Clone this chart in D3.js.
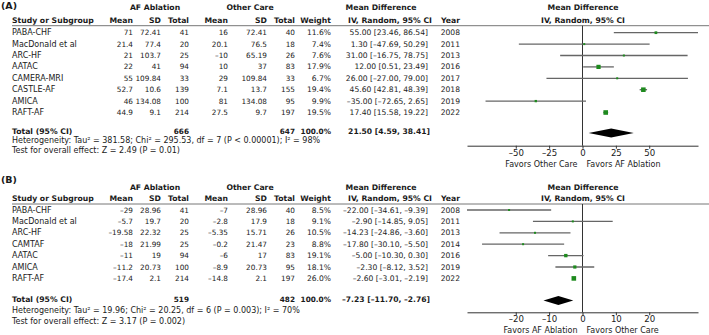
<!DOCTYPE html>
<html>
<head>
<meta charset="utf-8">
<script src="https://cdn.jsdelivr.net/npm/d3@7"></script>
<style>
  body { margin: 0; background: #fff; }
  svg { display: block; font-family: "DejaVu Sans", Verdana, sans-serif; }
</style>
</head>
<body>
<div id="chart"></div>
<script>
// ---- panel A ----
const studiesA = ["PABA-CHF", "MacDonald et al", "ARC-HF", "AATAC", "CAMERA-MRI", "CASTLE-AF", "AMICA", "RAFT-AF"];
const afMeanA = [71, 21.4, 21, 22, 55, 52.7, 46, 44.9];
const afSdA = [72.41, 77.4, 103.7, 41, 109.84, 10.6, 134.08, 9.1];
const afNA = [41, 20, 25, 94, 33, 139, 100, 214];
const ocMeanA = [16, 20.1, -10, 10, 29, 7.1, 81, 27.5];
const ocSdA = [72.41, 76.5, 65.19, 37, 109.84, 13.7, 134.08, 9.7];
const ocNA = [40, 18, 26, 83, 33, 155, 95, 197];
const weightA = [11.6, 7.4, 7.6, 17.9, 6.7, 19.4, 9.9, 19.5];
const mdA = [55.00, 1.30, 31.00, 12.00, 26.00, 45.60, -35.00, 17.40];
const loA = [23.46, -47.69, -16.75, 0.51, -27.00, 42.81, -72.65, 15.58];
const hiA = [86.54, 50.29, 78.75, 23.49, 79.00, 48.39, 2.65, 19.22];
const yearA = [2008, 2011, 2013, 2016, 2017, 2018, 2019, 2022];
const totalA = { afN: 666, ocN: 647, md: 21.50, lo: 4.59, hi: 38.41 };
const hetA = "Heterogeneity: Tau² = 381.58; Chi² = 295.53, df = 7 (P < 0.00001); I² = 98%";
const testA = "Test for overall effect: Z = 2.49 (P = 0.01)";
const ticksA = [-50, -25, 0, 25, 50];
const favorsA = ["Favors Other Care", "Favors AF Ablation"];

// ---- panel B ----
const studiesB = ["PABA-CHF", "MacDonald et al", "ARC-HF", "CAMTAF", "AATAC", "AMICA", "RAFT-AF"];
const afMeanB = [-29, -5.7, -19.58, -18, -11, -11.2, -17.4];
const afSdB = [28.96, 19.7, 22.32, 21.99, 19, 20.73, 2.1];
const afNB = [41, 20, 25, 25, 94, 100, 214];
const ocMeanB = [-7, -2.8, -5.35, -0.2, -6, -8.9, -14.8];
const ocSdB = [28.96, 17.9, 15.71, 21.47, 17, 20.73, 2.1];
const ocNB = [40, 18, 26, 23, 83, 95, 197];
const weightB = [8.5, 9.1, 10.5, 8.8, 19.1, 18.1, 26.0];
const mdB = [-22.00, -2.90, -14.23, -17.80, -5.00, -2.30, -2.60];
const loB = [-34.61, -14.85, -24.86, -30.10, -10.30, -8.12, -3.01];
const hiB = [-9.39, 9.05, -3.60, -5.50, 0.30, 3.52, -2.19];
const yearB = [2008, 2011, 2013, 2014, 2016, 2019, 2022];
const totalB = { afN: 519, ocN: 482, md: -7.23, lo: -11.70, hi: -2.76 };
const hetB = "Heterogeneity: Tau² = 19.96; Chi² = 20.25, df = 6 (P = 0.003); I² = 70%";
const testB = "Test for overall effect: Z = 3.17 (P = 0.002)";
const ticksB = [-20, -10, 0, 10, 20];
const favorsB = ["Favors AF Ablation", "Favors Other Care"];

const W = 709, H = 335;
const svg = d3.select("#chart").append("svg")
    .attr("width", W).attr("height", H)
    .attr("viewBox", [0, 0, W, H]);

// font sizes
const fsText = 8.0, fsNum = 7.3, fsMd = 7.6, fsHead = 7.7;
const txt = "#1a1a1a";
const minus = s => String(s).replace(/-/g, "\u2013");
const f2 = v => minus(v.toFixed(2));

// column right edges (text-anchor end)
const col = { afMean: 133, afSd: 161, afN: 189, ocMean: 228, ocSd: 267, ocN: 295, w: 331, md: 428, year: 460 };

function drawPanel(p) {
    const g = svg.append("g");
    const n = p.studies.length;
    const x = d3.scaleLinear()
        .domain([-p.ext, p.ext])
        .range([467, 698]);
    const y = i => p.row0 + i * 11.4;

    const t = (xx, yy, s, anchor, size, bold) => g.append("text")
        .attr("x", xx).attr("y", yy)
        .attr("dominant-baseline", "central")
        .attr("text-anchor", anchor)
        .attr("font-size", size)
        .attr("font-weight", bold ? "bold" : "normal")
        .attr("fill", txt)
        .text(s);
    const head = (xx, yy, s, anchor) => t(xx, yy, s, anchor, fsHead, true);

    // headings
    t(1, p.label, p.name, "start", 9.5, true);
    head(155, p.h1, "AF Ablation", "middle");
    head(250, p.h1, "Other Care", "middle");
    head(381, p.h1, "Mean Difference", "middle");
    head(583, p.h1, "Mean Difference", "middle");
    head(12, p.h2, "Study or Subgroup", "start");
    head(col.afMean, p.h2, "Mean", "end");
    head(col.afSd, p.h2, "SD", "end");
    head(col.afN, p.h2, "Total", "end");
    head(col.ocMean, p.h2, "Mean", "end");
    head(col.ocSd, p.h2, "SD", "end");
    head(col.ocN, p.h2, "Total", "end");
    head(col.w, p.h2, "Weight", "end");
    head(390, p.h2, "IV, Random, 95% CI", "middle");
    head(col.year, p.h2, "Year", "end");
    head(583, p.h2, "IV, Random, 95% CI", "middle");

    g.append("line")
        .attr("x1", 12).attr("x2", W)
        .attr("y1", p.line).attr("y2", p.line)
        .attr("stroke", "#777").attr("stroke-width", 1);

    // study rows
    for (let i = 0; i < n; i++) {
        const yy = y(i);
        t(12, yy, p.studies[i], "start", fsText);
        t(col.afMean, yy, minus(p.afMean[i]), "end", fsNum);
        t(col.afSd, yy, minus(p.afSd[i]), "end", fsNum);
        t(col.afN, yy, p.afN[i], "end", fsNum);
        t(col.ocMean, yy, minus(p.ocMean[i]), "end", fsNum);
        t(col.ocSd, yy, minus(p.ocSd[i]), "end", fsNum);
        t(col.ocN, yy, p.ocN[i], "end", fsNum);
        t(col.w, yy, p.weight[i].toFixed(1) + "%", "end", fsMd);
        t(col.md, yy, `${f2(p.md[i])} [${f2(p.lo[i])}, ${f2(p.hi[i])}]`, "end", fsMd);
        t(col.year, yy, p.year[i], "end", fsMd);
    }

    // totals
    t(12, p.total, "Total (95% CI)", "start", fsHead, true);
    t(col.afN, p.total, p.tot.afN, "end", fsNum, true);
    t(col.ocN, p.total, p.tot.ocN, "end", fsNum, true);
    t(col.w, p.total, "100.0%", "end", fsNum, true);
    t(col.md + 2, p.total, `${f2(p.tot.md)} [${f2(p.tot.lo)}, ${f2(p.tot.hi)}]`, "end", fsMd, true);
    t(12, p.het, p.hetText, "start", fsText);
    t(12, p.test, p.testText, "start", fsText);

    // zero line
    g.append("line")
        .attr("x1", x(0)).attr("x2", x(0))
        .attr("y1", p.line).attr("y2", p.axis)
        .attr("stroke", "#333").attr("stroke-width", 1);

    // CIs and weighted squares
    const wmax = d3.max(p.weight);
    const sz = d3.scaleLinear().domain([0, wmax]).range([0, 4.6]);
    const side = i => Math.max(2, sz(p.weight[i]));
    g.append("g").selectAll("line")
        .data(d3.range(n))
        .join("line")
        .attr("x1", i => x(p.lo[i])).attr("x2", i => x(p.hi[i]))
        .attr("y1", i => y(i)).attr("y2", i => y(i))
        .attr("stroke", "#666").attr("stroke-width", 1.3);
    g.append("g").selectAll("rect")
        .data(d3.range(n))
        .join("rect")
        .attr("x", i => x(p.md[i]) - side(i) / 2)
        .attr("y", i => y(i) - side(i) / 2)
        .attr("width", side)
        .attr("height", side)
        .attr("fill", "#1e8a1e");

    // pooled diamond
    const dy = p.total + 1.5;
    g.append("path")
        .attr("d", `M${x(p.tot.lo)},${dy}L${x(p.tot.md)},${dy - 4.5}L${x(p.tot.hi)},${dy}L${x(p.tot.md)},${dy + 4.5}Z`)
        .attr("fill", "#000");

    // axis
    const ax = g.append("g")
        .attr("transform", `translate(0,${p.axis})`)
        .call(d3.axisBottom(x).tickValues(p.ticks).tickSize(3).tickSizeOuter(0)
            .tickFormat(d => minus(d)));
    ax.select(".domain").attr("stroke", "#333");
    ax.selectAll(".tick line").attr("stroke", "#333");
    ax.selectAll(".tick text")
        .attr("font-family", "DejaVu Sans, Verdana, sans-serif")
        .attr("font-size", 8.6).attr("fill", txt).attr("dy", "0.45em");

    t(x(0) - 5, p.favors, p.fav[0], "end", fsText);
    t(x(0) + 4, p.favors, p.fav[1], "start", fsText);
}

drawPanel({
    name: "(A)", studies: studiesA, afMean: afMeanA, afSd: afSdA, afN: afNA,
    ocMean: ocMeanA, ocSd: ocSdA, ocN: ocNA, weight: weightA,
    md: mdA, lo: loA, hi: hiA, year: yearA, tot: totalA,
    hetText: hetA, testText: testA, ticks: ticksA, fav: favorsA,
    ext: d3.max([...loA, ...hiA], Math.abs),
    label: 5, h1: 7.5, h2: 20, line: 25.7, row0: 32.7,
    total: 131.5, het: 140.5, test: 150.5, axis: 145.7, favors: 164
});

drawPanel({
    name: "(B)", studies: studiesB, afMean: afMeanB, afSd: afSdB, afN: afNB,
    ocMean: ocMeanB, ocSd: ocSdB, ocN: ocNB, weight: weightB,
    md: mdB, lo: loB, hi: hiB, year: yearB, tot: totalB,
    hetText: hetB, testText: testB, ticks: ticksB, fav: favorsB,
    ext: d3.max([...loB, ...hiB], Math.abs),
    label: 179, h1: 187.8, h2: 198.3, line: 204, row0: 210,
    total: 299, het: 310.5, test: 321.5, axis: 312.3, favors: 330
});
</script>
</body>
</html>
